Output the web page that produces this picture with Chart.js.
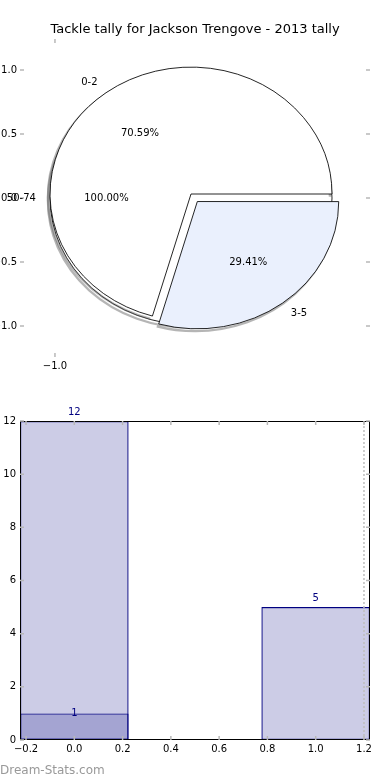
<!DOCTYPE html>
<html>
<head>
<meta charset="utf-8">
<script src="https://cdn.jsdelivr.net/npm/chart.js@4.4.1/dist/chart.umd.min.js"></script>
<style>
  html, body { margin: 0; padding: 0; background: #fff; }
  #wrap { position: relative; width: 390px; height: 780px; overflow: hidden; }
  .layer { position: absolute; left: 0; width: 390px; height: 390px; }
  #credit { position: absolute; left: 0; top: 763px; font: 12px 'DejaVu Sans', sans-serif; line-height: 14px; color: #999; }
</style>
</head>
<body>
<div id="wrap">
  <div class="layer" style="top:0"><canvas id="pieAxes"></canvas></div>
  <div class="layer" style="top:0"><canvas id="ghostPie"></canvas></div>
  <div class="layer" style="top:0"><canvas id="tallyPie"></canvas></div>
  <div class="layer" style="top:390px"><canvas id="tallyBars"></canvas></div>
  <div id="credit">Dream-Stats.com</div>
</div>
<script>
const titleText = 'Tackle tally for Jackson Trengove - 2013 tally';

// pie
const pieLabels = ['0-2', '3-5'];
const pieValues = [12, 5];
const ghostLabels = ['50-74'];
const ghostValues = [1];
const pieYTicks = [1.0, 0.5, 0.0, -0.5, -1.0];
const pieXTicks = [-1.0];

// bars
const barPositions = [0, 1];
const barCounts = [12, 5];
const innerPositions = [0];
const innerCounts = [1];
const barXTicks = [-0.2, 0.0, 0.2, 0.4, 0.6, 0.8, 1.0, 1.2];
const barYTicks = [0, 2, 4, 6, 8, 10, 12];
const markerX = 1.2;

Chart.defaults.font.family = "'DejaVu Sans', sans-serif";
Chart.defaults.font.size = 10;
Chart.defaults.color = '#000';

const squash = 0.9; // pie is drawn a bit flatter than round
const tickGray = '#b8b8b8';
const fmt = v => (v < 0 ? '\u2212' : '') + Math.abs(v).toFixed(1);

// little grey tick marks pointing inward on every side
function innerTicks(xId, yId) {
  return {
    id: 'innerTicks',
    afterDraw(chart) {
      const { ctx, chartArea: a } = chart;
      const xs = chart.scales[xId];
      const ys = chart.scales[yId];
      ctx.save();
      ctx.strokeStyle = tickGray;
      ctx.lineWidth = 1.5;
      ctx.beginPath();
      xs.ticks.forEach(t => {
        const px = xs.getPixelForValue(t.value);
        ctx.moveTo(px, a.top); ctx.lineTo(px, a.top + 4);
        ctx.moveTo(px, a.bottom); ctx.lineTo(px, a.bottom - 4);
      });
      ys.ticks.forEach(t => {
        const py = ys.getPixelForValue(t.value);
        ctx.moveTo(a.left, py); ctx.lineTo(a.left + 4, py);
        ctx.moveTo(a.right, py); ctx.lineTo(a.right - 4, py);
      });
      ctx.stroke();
      ctx.restore();
    }
  };
}

const frame = {
  id: 'frame',
  afterDraw(chart) {
    const { ctx, chartArea: a } = chart;
    ctx.save();
    ctx.strokeStyle = '#000';
    ctx.lineWidth = 1;
    ctx.strokeRect(Math.round(a.left) + 0.5, Math.round(a.top) + 0.5,
      Math.round(a.right - a.left) - 1, Math.round(a.bottom - a.top) - 1);
    ctx.restore();
  }
};

// squash the pie, and put a grey shadow under the outer edge
function ellipse(outline) {
  return {
    id: 'ellipse',
    beforeDatasetsDraw(chart) {
      const ctx = chart.ctx;
      const arcs = chart.getDatasetMeta(0).data;
      const cx = arcs[0].x, cy = arcs[0].y;
      ctx.save();
      ctx.translate(cx, cy);
      ctx.scale(1, squash);
      ctx.translate(-cx, -cy);
      arcs.forEach(arc => {
        const mid = (arc.startAngle + arc.endAngle) / 2;
        const shift = (arc.options.offset || 0) / 4;
        ctx.save();
        ctx.translate(Math.cos(mid) * shift - 2, Math.sin(mid) * shift + 3);
        ctx.beginPath();
        ctx.arc(arc.x, arc.y, arc.outerRadius, arc.startAngle, arc.endAngle);
        ctx.strokeStyle = 'rgba(90,90,90,0.45)';
        ctx.lineWidth = 2.5;
        ctx.stroke();
        ctx.restore();
      });
    },
    afterDatasetsDraw(chart) {
      const ctx = chart.ctx;
      if (outline) {
        chart.getDatasetMeta(0).data.forEach(arc => {
          ctx.beginPath();
          ctx.arc(arc.x, arc.y, arc.outerRadius, arc.startAngle, arc.endAngle);
          ctx.strokeStyle = '#000';
          ctx.lineWidth = 0.9;
          ctx.stroke();
        });
      }
      ctx.restore();
    }
  };
}

let ghostChart = null;

// labels at 1.1 r and percentages at 0.6 r, for both pies, drawn on the top canvas
const pieTexts = {
  id: 'pieTexts',
  afterDraw(chart) {
    const sets = [
      { chart: ghostChart, labels: ghostLabels, values: ghostValues },
      { chart: chart, labels: pieLabels, values: pieValues }
    ];
    const ctx = chart.ctx;
    ctx.save();
    ctx.font = "10px 'DejaVu Sans', sans-serif";
    ctx.fillStyle = '#000';
    ctx.textBaseline = 'middle';
    sets.forEach(set => {
      if (!set.chart) return;
      const total = set.values.reduce((a, b) => a + b, 0);
      set.chart.getDatasetMeta(0).data.forEach((arc, i) => {
        const mid = (arc.startAngle + arc.endAngle) / 2;
        const shift = (arc.options.offset || 0) / 4;
        const r = arc.outerRadius;
        const at = k => [arc.x + Math.cos(mid) * (shift + k * r),
                         arc.y + Math.sin(mid) * (shift + k * r) * squash];
        let [x, y] = at(1.1);
        ctx.textAlign = Math.cos(mid) < 0 ? 'right' : 'left';
        ctx.fillText(set.labels[i], x, y);
        [x, y] = at(0.6);
        ctx.textAlign = 'center';
        ctx.fillText((set.values[i] / total * 100).toFixed(2) + '%', x, y);
      });
    });
    ctx.restore();
  }
};

const quiet = {
  responsive: true,
  maintainAspectRatio: false,
  animation: false,
  events: []
};

// axes behind the pie
new Chart(document.getElementById('pieAxes'), {
  type: 'scatter',
  data: { datasets: [] },
  options: {
    ...quiet,
    plugins: {
      legend: { display: false },
      tooltip: { enabled: false },
      title: {
        display: true,
        text: titleText,
        color: '#000',
        font: { size: 13, weight: 'normal', lineHeight: 1.2 },
        padding: { top: 22, bottom: 1.4 }
      }
    },
    scales: {
      x: {
        type: 'linear', min: -1.257, max: 1.316,
        afterBuildTicks: s => { s.ticks = pieXTicks.map(v => ({ value: v })); },
        afterFit: s => { s.height = 33; },
        grid: { display: false, drawTicks: false },
        border: { display: false },
        ticks: { padding: 3, maxRotation: 0, autoSkip: false, callback: v => fmt(v) }
      },
      y: {
        min: -1.242, max: 1.242,
        afterBuildTicks: s => { s.ticks = pieYTicks.map(v => ({ value: v })); },
        afterFit: s => { s.width = 20; },
        grid: { display: false, drawTicks: false },
        border: { display: false },
        ticks: { padding: 3, autoSkip: false, callback: v => fmt(v) }
      },
      y2: {
        position: 'right', min: -1.242, max: 1.242,
        afterFit: s => { s.width = 20; },
        grid: { display: false, drawTicks: false },
        border: { display: false },
        ticks: { display: false }
      }
    }
  },
  plugins: [innerTicks('x', 'y')]
});

// the stray full pie underneath
ghostChart = new Chart(document.getElementById('ghostPie'), {
  type: 'pie',
  data: {
    labels: ghostLabels,
    datasets: [{
      data: ghostValues,
      backgroundColor: '#ffffff',
      borderWidth: 0,
      radius: 141,
      rotation: 90
    }]
  },
  options: {
    ...quiet,
    layout: { padding: { left: 0, right: 8, top: 6, bottom: 0 } },
    plugins: { legend: { display: false }, tooltip: { enabled: false } }
  },
  plugins: [ellipse(true)]
});

const pieTotal = pieValues.reduce((a, b) => a + b, 0);

new Chart(document.getElementById('tallyPie'), {
  type: 'pie',
  data: {
    labels: pieLabels,
    datasets: [{
      data: pieValues,
      backgroundColor: ['#ffffff', '#eaf0fd'],
      borderColor: '#000',
      borderWidth: 0.9,
      offset: [0, 42],
      radius: 141,
      rotation: 450 - 360 * pieValues[0] / pieTotal
    }]
  },
  options: {
    ...quiet,
    layout: { padding: { left: 0, right: 8, top: 0, bottom: 2 } },
    plugins: { legend: { display: false }, tooltip: { enabled: false } }
  },
  plugins: [ellipse(false), pieTexts]
});

const barValueLabels = {
  id: 'barValueLabels',
  afterDatasetsDraw(chart) {
    const ctx = chart.ctx;
    ctx.save();
    ctx.font = "10px 'DejaVu Sans', sans-serif";
    ctx.fillStyle = '#000080';
    ctx.textAlign = 'center';
    ctx.textBaseline = 'middle';
    [[0, innerCounts, 0], [1, barCounts, 9]].forEach(([di, counts, lift]) => {
      chart.getDatasetMeta(di).data.forEach((el, i) => {
        ctx.fillText(String(counts[i]), el.x, el.y - lift);
      });
    });
    ctx.restore();
  }
};

const barStyle = {
  backgroundColor: 'rgba(0,0,128,0.2)',
  borderColor: '#000080',
  borderWidth: 1.2,
  borderSkipped: false,
  grouped: false,
  barPercentage: 0.45 / 0.2,
  categoryPercentage: 1
};

new Chart(document.getElementById('tallyBars'), {
  type: 'bar',
  data: {
    datasets: [
      { label: 'inner', data: innerPositions.map((x, i) => ({ x, y: innerCounts[i] })), ...barStyle },
      { label: 'tally', data: barPositions.map((x, i) => ({ x, y: barCounts[i] })), ...barStyle },
      {
        type: 'line',
        label: 'marker',
        data: [{ x: markerX, y: barYTicks[0] }, { x: markerX, y: barYTicks[barYTicks.length - 1] }],
        borderColor: '#bdbdbd',
        borderWidth: 1.5,
        borderDash: [2, 2],
        pointRadius: 0,
        fill: false,
        order: -1
      }
    ]
  },
  options: {
    ...quiet,
    layout: { padding: { left: 0, right: 0, top: 31, bottom: 0 } },
    plugins: { legend: { display: false }, tooltip: { enabled: false } },
    scales: {
      x: {
        type: 'linear', min: -0.225, max: 1.225, offset: false,
        afterBuildTicks: s => { s.ticks = barXTicks.map(v => ({ value: v })); },
        afterFit: s => { s.height = 40; },
        grid: { display: false, drawTicks: false, offset: false },
        border: { display: false },
        ticks: { padding: 3, maxRotation: 0, autoSkip: false, callback: v => fmt(v) }
      },
      y: {
        min: 0, max: 12,
        afterBuildTicks: s => { s.ticks = barYTicks.map(v => ({ value: v })); },
        afterFit: s => { s.width = 20; },
        grid: { display: false, drawTicks: false },
        border: { display: false },
        ticks: { padding: 4, autoSkip: false, callback: v => String(v) }
      },
      y2: {
        position: 'right', min: 0, max: 12,
        afterFit: s => { s.width = 20; },
        grid: { display: false, drawTicks: false },
        border: { display: false },
        ticks: { display: false }
      }
    }
  },
  plugins: [barValueLabels, frame, innerTicks('x', 'y')]
});
</script>
</body>
</html>
